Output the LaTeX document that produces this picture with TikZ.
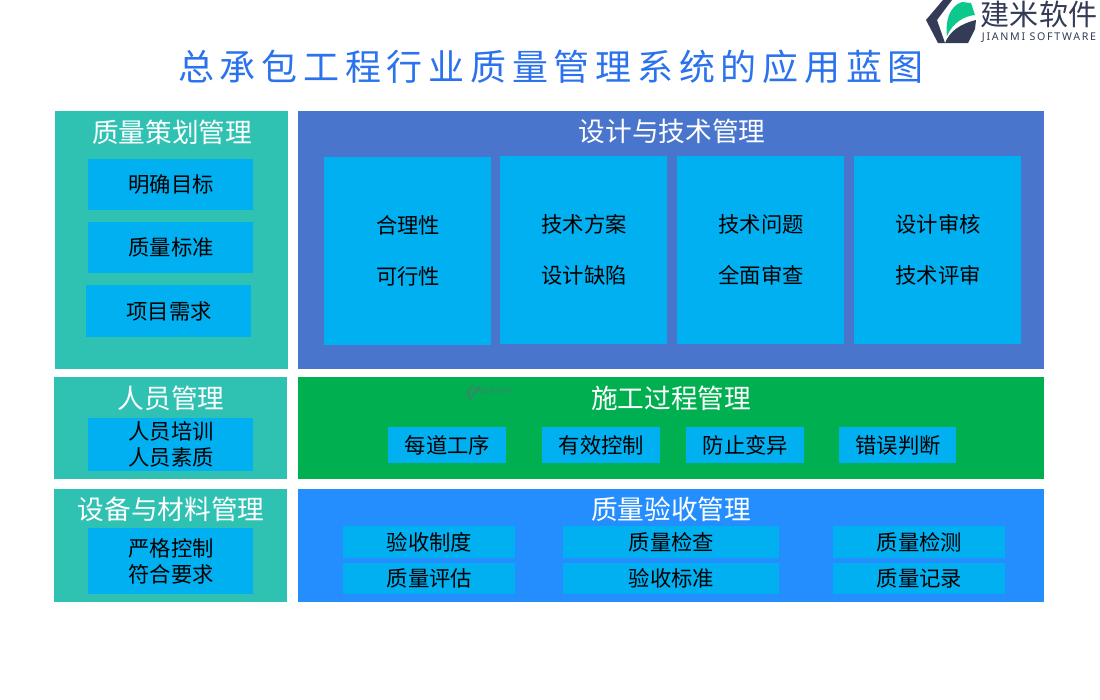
\documentclass[tikz,border=0pt]{standalone}
\usepackage{fontspec}
\setmainfont{Noto Sans CJK SC}
\newfontfamily\titlefont[LetterSpace=16]{Noto Sans CJK SC}
\newfontfamily\latinfont[LetterSpace=16]{Noto Sans}
\definecolor{teal1}{HTML}{2FC2B3}
\definecolor{royal}{HTML}{4A75CC}
\definecolor{sky}{HTML}{00B0F0}
\definecolor{grn}{HTML}{00B050}
\definecolor{brt}{HTML}{258EFF}
\definecolor{ttl}{HTML}{2A72EE}
\definecolor{ink}{HTML}{333B57}
\definecolor{mint}{HTML}{0CC88A}
\definecolor{wm}{HTML}{2A8F62}
\tikzset{
 x=0.75pt,y=-0.75pt,
 head/.style={text=white,font=\fontsize{20}{24}\selectfont,inner sep=0pt},
 lab/.style={text=black,font=\fontsize{16}{19.5}\selectfont,align=center,inner sep=0pt},
 tall/.style={lab,font=\fontsize{16}{38.2}\selectfont},
}
% \bx{name}{x0}{y0}{x1}{y1}{colour}{extra style}{text}
\newcommand{\bx}[8]{\path[fill=#6] (#2,#3) rectangle (#4,#5);
 \node[lab,#7] (#1) at ({(#2+#4)/2+0.5},{(#3+#5)/2}) {#8};}
\begin{document}
\begin{tikzpicture}
\useasboundingbox (0,0) rectangle (1100,700);
\fill[white] (0,0) rectangle (1100,700);
% logo
\fill[ink] (943,0) -- (926,20) -- (938,43) -- (945,43) -- (937,20) -- (952,0) -- cycle;
\fill[mint] (947,36) .. controls (945,20) and (950,6) .. (962,2) -- (971,3) -- (975,15) .. controls (965,16) and (953,22) .. (947,36) -- cycle;
\fill[ink] (945,43) .. controls (950,31) and (960,24) .. (976,20) -- (975,29) -- (968,43) -- cycle;
\node[inner sep=0pt,font=\fontsize{21.8}{24}\selectfont,text=ink] (logotext) at (1039,14) {建米软件};
\node[inner sep=0pt,font=\fontsize{8}{10}\selectfont\latinfont,text=ink] (logosub) at (1039,38) {JIANMI SOFTWARE};
% title
\node[inner sep=0pt,text=ttl,font=\fontsize{27}{30}\selectfont\titlefont] (title) at (551,67) {总承包工程行业质量管理系统的应用蓝图};
% row 1
\fill[teal1] (55,111) rectangle (288,369);
\fill[royal] (298,111) rectangle (1044,369);
\node[head] (h1) at (172,132) {质量策划管理};
\node[head] (h2) at (672,131) {设计与技术管理};
\bx{a1}{88}{159}{253}{210}{sky}{}{明确目标}
\bx{a2}{88}{222}{253}{273}{sky}{}{质量标准}
\bx{a3}{86}{285}{251}{337}{sky}{}{项目需求}
\bx{d1}{324}{157}{491}{345}{sky}{tall}{合理性\\可行性}
\bx{d2}{500}{156}{667}{344}{sky}{tall}{技术方案\\设计缺陷}
\bx{d3}{677}{156}{844}{344}{sky}{tall}{技术问题\\全面审查}
\bx{d4}{854}{156}{1021}{344}{sky}{tall}{设计审核\\技术评审}
% row 2
\fill[teal1] (54,377) rectangle (287,479);
\fill[grn] (298,377) rectangle (1044,479);
\node[head] (h3) at (171,398) {人员管理};
\node[head] (h4) at (671,398) {施工过程管理};
% watermark
\fill[wm] (471,385) -- (466,392) -- (470,401) -- (472,401) -- (470,392) -- (474,385) -- cycle;
\fill[wm] (472,399) .. controls (472,391) and (474,386) .. (480,386) -- (480,391) .. controls (476,392) and (474,395) .. (472,399) -- cycle;
\node[inner sep=0pt,font=\fontsize{6.4}{7}\selectfont,text=wm] (wmtext) at (497,391) {建米软件};
\bx{p0}{88}{418}{253}{471}{sky}{}{人员培训\\人员素质}
\bx{c1}{388}{427}{506}{463}{sky}{}{每道工序}
\bx{c2}{542}{427}{660}{463}{sky}{}{有效控制}
\bx{c3}{686}{427}{804}{463}{sky}{}{防止变异}
\bx{c4}{839}{427}{956}{463}{sky}{}{错误判断}
% row 3
\fill[teal1] (54,489) rectangle (287,602);
\fill[brt] (298,489) rectangle (1044,602);
\node[head] (h5) at (171,509) {设备与材料管理};
\node[head] (h6) at (671,509) {质量验收管理};
\bx{m0}{88}{528}{253}{594}{sky}{}{严格控制\\符合要求}
\bx{q1}{343}{526}{515}{558}{sky}{}{验收制度}
\bx{q2}{343}{563}{515}{594}{sky}{}{质量评估}
\bx{q3}{563}{526}{779}{558}{sky}{}{质量检查}
\bx{q4}{563}{563}{779}{594}{sky}{}{验收标准}
\bx{q5}{833}{526}{1005}{558}{sky}{}{质量检测}
\bx{q6}{833}{563}{1005}{594}{sky}{}{质量记录}
\end{tikzpicture}
\end{document}
